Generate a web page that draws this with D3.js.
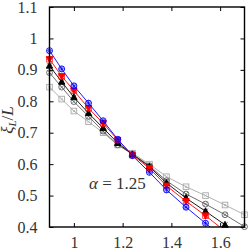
<!DOCTYPE html>
<html>
<head>
<meta charset="utf-8">
<script src="https://cdn.jsdelivr.net/npm/d3@7"></script>
<style>
body { margin: 0; background: #fff; }
svg text { font-family: "Liberation Serif", "DejaVu Serif", serif; }
</style>
</head>
<body>
<svg width="250" height="248"></svg>
<script>
// temperature points (shared by all sizes)
var xs = [0.90, 0.95, 1.00, 1.06, 1.12, 1.18, 1.24, 1.31, 1.38, 1.46, 1.54, 1.62, 1.70];

// one list per system size, largest first
var blueVals  = [0.961, 0.903, 0.849, 0.794, 0.738, 0.679, 0.627, 0.574, 0.518, 0.463, 0.412, 0.360];
var redVals   = [0.934, 0.880, 0.834, 0.778, 0.730, 0.677, 0.629, 0.587, 0.531, 0.482, 0.436, 0.387];
var blackVals = [0.913, 0.862, 0.813, 0.762, 0.715, 0.667, 0.631, 0.592, 0.540, 0.492, 0.450, 0.407, 0.365];
var dgrayVals = [0.891, 0.845, 0.799, 0.752, 0.705, 0.661, 0.632, 0.595, 0.547, 0.505, 0.473, 0.439, 0.401];
var lgrayVals = [0.845, 0.807, 0.769, 0.735, 0.700, 0.661, 0.635, 0.600, 0.560, 0.528, 0.500, 0.470, 0.439];

var xTicks = [1, 1.2, 1.4, 1.6];
var yTicks = [0.4, 0.5, 0.6, 0.7, 0.8, 0.9, 1, 1.1];

var series = [
  {vals: lgrayVals, color: "#a8a8a8", mark: "sq"},
  {vals: dgrayVals, color: "#5e5e5e", mark: "cx"},
  {vals: blackVals, color: "#000000", mark: "tri"},
  {vals: redVals,   color: "#ff0000", mark: "dtri"},
  {vals: blueVals,  color: "#0000ff", mark: "star"}
];

var pl = 49.5, pr = 244.5, pt = 7, pb = 227;

var x = d3.scaleLinear().domain([0.9, 1.7]).range([pl, pr]);
var y = d3.scaleLinear().domain([0.4, 1.1]).range([pb, pt]);

var svg = d3.select("svg");

svg.append("clipPath").attr("id", "clip")
  .append("rect")
  .attr("x", pl).attr("y", pt)
  .attr("width", pr - pl).attr("height", pb - pt);

var line = d3.line()
  .x(function(d){ return x(d[0]); })
  .y(function(d){ return y(d[1]); });

series.forEach(function(s){
  var pts = s.vals.map(function(v, i){ return [xs[i], v]; });
  svg.append("path")
    .attr("d", line(pts))
    .attr("fill", "none")
    .attr("stroke", s.color)
    .attr("stroke-width", 0.9)
    .attr("clip-path", "url(#clip)");

  pts.filter(function(p){ return p[1] >= 0.399; }).forEach(function(p){
    var g = svg.append("g")
      .attr("transform", "translate(" + x(p[0]) + "," + y(p[1]) + ")")
      .attr("stroke", s.color)
      .attr("stroke-width", 0.9)
      .attr("fill", "none");
    if (s.mark == "sq") {
      g.append("rect").attr("x", -2.8).attr("y", -2.8).attr("width", 5.6).attr("height", 5.6);
      g.append("path").attr("d", "M-1.3,-1.3L1.3,1.3M-1.3,1.3L1.3,-1.3").attr("stroke-width", 0.7);
    } else if (s.mark == "cx") {
      g.append("circle").attr("r", 2.9);
      g.append("path").attr("d", "M-2,-2L2,2M-2,2L2,-2").attr("stroke-width", 0.7);
    } else if (s.mark == "tri") {
      g.append("path").attr("d", "M0,-3.5L3.2,2.4L-3.2,2.4Z").attr("fill", s.color);
      g.append("path").attr("d", "M-2.8,-2.8L2.8,2.8M-2.8,2.8L2.8,-2.8").attr("stroke-width", 0.5);
    } else if (s.mark == "dtri") {
      g.append("path").attr("d", "M0,3.5L3.2,-2.4L-3.2,-2.4Z").attr("fill", s.color);
      g.append("rect").attr("x", -2.8).attr("y", -2.8).attr("width", 5.6).attr("height", 5.6).attr("stroke-width", 0.7);
    } else {
      g.append("circle").attr("r", 3);
      g.append("path").attr("d", "M-3,0L3,0M0,-3L0,3M-2.1,-2.1L2.1,2.1M-2.1,2.1L2.1,-2.1").attr("stroke-width", 0.7);
    }
  });
});

// axes, mirrored on all four sides with inward ticks
svg.append("g")
  .attr("transform", "translate(0," + pb + ")")
  .call(d3.axisBottom(x).tickValues(xTicks).tickSizeInner(-4).tickSizeOuter(0).tickPadding(10).tickFormat(d3.format("")))
  .call(function(g){ g.select(".domain").remove(); });
svg.append("g")
  .attr("transform", "translate(0," + pt + ")")
  .call(d3.axisTop(x).tickValues(xTicks).tickSizeInner(-4).tickSizeOuter(0).tickFormat(""))
  .call(function(g){ g.select(".domain").remove(); });
svg.append("g")
  .attr("transform", "translate(" + pl + ",0)")
  .call(d3.axisLeft(y).tickValues(yTicks).tickSizeInner(-4).tickSizeOuter(0).tickPadding(12).tickFormat(d3.format("")))
  .call(function(g){ g.select(".domain").remove(); });
svg.append("g")
  .attr("transform", "translate(" + pr + ",0)")
  .call(d3.axisRight(y).tickValues(yTicks).tickSizeInner(-4).tickSizeOuter(0).tickFormat(""))
  .call(function(g){ g.select(".domain").remove(); });

svg.selectAll(".tick text")
  .attr("font-size", 16)
  .attr("font-family", "Liberation Serif, serif")
  .attr("fill", "#333");
svg.selectAll(".tick line").attr("stroke", "#000");

svg.append("rect")
  .attr("x", pl).attr("y", pt)
  .attr("width", pr - pl).attr("height", pb - pt)
  .attr("fill", "none").attr("stroke", "#000").attr("stroke-width", 1.4);

// y label
var yl = svg.append("text")
  .attr("transform", "translate(13,120) rotate(-90)")
  .attr("text-anchor", "middle")
  .attr("font-size", 17)
  .attr("fill", "#333");
yl.append("tspan").attr("font-style", "italic").text("ξ");
yl.append("tspan").attr("font-size", 11).attr("font-style", "italic").attr("dy", 3).text("L");
yl.append("tspan").attr("dy", -3).text("/");
yl.append("tspan").attr("font-style", "italic").text("L");

// annotation
var ann = svg.append("text")
  .attr("x", 89).attr("y", 189)
  .attr("font-size", 17)
  .attr("fill", "#333");
ann.append("tspan").attr("font-style", "italic").text("α");
ann.append("tspan").text(" = 1.25");
</script>
</body>
</html>
